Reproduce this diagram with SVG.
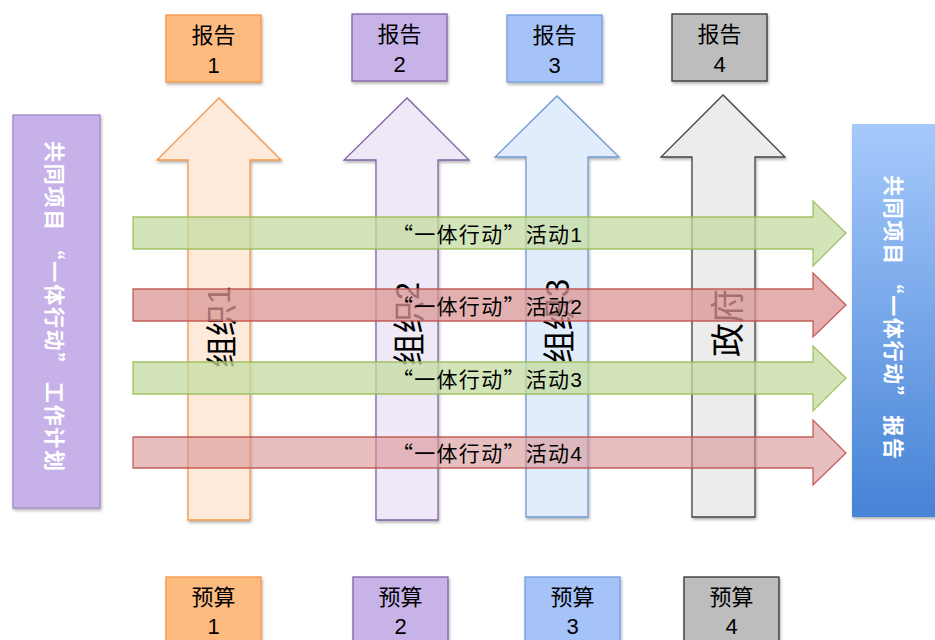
<svg xmlns="http://www.w3.org/2000/svg" width="935" height="640" viewBox="0 0 935 640">
<defs>
<filter id="sh" x="-10%" y="-10%" width="130%" height="130%">
<feDropShadow dx="1" dy="2" stdDeviation="1.5" flood-color="#000" flood-opacity="0.3"/>
</filter>
<linearGradient id="blueGrad" x1="0" y1="0" x2="0" y2="1">
<stop offset="0" stop-color="#a6c9fb"/>
<stop offset="1" stop-color="#4683d6"/>
</linearGradient>
<style>
.box{stroke-width:1.3;filter:url(#sh)}
.lbl{font-family:"Noto Sans CJK SC","Liberation Sans",sans-serif;fill:#000;text-anchor:middle}
.num{font-family:"Liberation Sans","Noto Sans CJK SC",sans-serif}
.side{font-family:"Noto Sans CJK SC",sans-serif;font-weight:bold;fill:#fff;font-size:21px;text-anchor:middle;dominant-baseline:central}
.vt{font-family:"Noto Sans CJK SC","Liberation Sans",sans-serif;fill:#000;text-anchor:middle;dominant-baseline:central}
.up{stroke-width:1.3;filter:url(#sh)}
.green{fill:#c4dca0;stroke:#9bbb59;stroke-width:1.3;fill-opacity:0.75;stroke-opacity:0.9}
.red{fill:#d99594;stroke:#c0504d;stroke-width:1.3;fill-opacity:0.75;stroke-opacity:0.9}
.red2{fill:#d99594;stroke:#c0504d;stroke-width:1.3;fill-opacity:0.6;stroke-opacity:0.9}
.hl{font-family:"Noto Sans CJK SC","Liberation Sans",sans-serif;font-size:21px;fill:#000;text-anchor:middle}
</style>
</defs>
<rect width="935" height="640" fill="#fff"/>

<g id="plan">
<rect class="box" x="13" y="115" width="87" height="393" fill="#c6b1e8" stroke="#a08ac6"/>
<text class="side" transform="translate(56,306) rotate(90)" textLength="330" lengthAdjust="spacing">共同项目 “一体行动” 工作计划</text>
</g>

<g id="report-final">
<rect x="852" y="124" width="90" height="393" fill="url(#blueGrad)" filter="url(#sh)"/>
<text class="side" transform="translate(895,317) rotate(90)" textLength="284" lengthAdjust="spacing">共同项目 “一体行动” 报告</text>
</g>

<g id="report1">
<rect class="box" x="166" y="15" width="95" height="67" fill="#fdbb80" stroke="#f79646"/>
<text class="lbl" x="213.5" y="43" font-size="22">报告</text>
<text class="lbl num" x="213.5" y="73" font-size="22">1</text>
</g>
<g id="report2">
<rect class="box" x="352" y="14" width="95" height="67" fill="#c7b3e7" stroke="#8064a2"/>
<text class="lbl" x="399.5" y="42" font-size="22">报告</text>
<text class="lbl num" x="399.5" y="72" font-size="22">2</text>
</g>
<g id="report3">
<rect class="box" x="507" y="15" width="95" height="67" fill="#a5c3f9" stroke="#6f9fdd"/>
<text class="lbl" x="554.5" y="43" font-size="22">报告</text>
<text class="lbl num" x="554.5" y="73" font-size="22">3</text>
</g>
<g id="report4">
<rect class="box" x="672" y="14" width="95" height="67" fill="#bdbdbd" stroke="#333"/>
<text class="lbl" x="719.5" y="42" font-size="22">报告</text>
<text class="lbl num" x="719.5" y="72" font-size="22">4</text>
</g>

<g id="org1">
<path class="up" d="M188,520 V160 H157 L219,98 L281,160 H250 V520 Z" fill="#fdeada" stroke="#f79646"/>
<text class="vt" font-size="32" transform="translate(219,327) rotate(-90)">组织<tspan class="num">1</tspan></text>
</g>
<g id="org2">
<path class="up" d="M376,520 V160 H344 L407,98 L469,160 H438 V520 Z" fill="#efe9f7" stroke="#8064a2"/>
<text class="vt" font-size="33" transform="translate(407,324) rotate(-90)">组织<tspan class="num">2</tspan></text>
</g>
<g id="org3">
<path class="up" d="M526,517 V157 H495 L557,96 L619,157 H588 V517 Z" fill="#e1ecfc" stroke="#6f98d0"/>
<text class="vt" font-size="33" transform="translate(557,321) rotate(-90)">组织<tspan class="num">3</tspan></text>
</g>
<g id="gov">
<path class="up" d="M692,517 V157 H661 L723,95 L785,157 H755 V517 Z" fill="#ececec" stroke="#444"/>
<text class="vt" font-size="34" transform="translate(725,323) rotate(-90)">政府</text>
</g>

<g id="connectors">
<path class="green" d="M133,217 H813 V201 L846,233 L813,266 V249 H133 Z"/>
<path class="red" d="M133,289 H813 V273 L846,305 L813,337 V321 H133 Z"/>
<path class="green" d="M133,362 H813 V346 L846,378 L813,411 V394 H133 Z"/>
<path class="red2" d="M133,437 H813 V420 L846,453 L813,485 V468 H133 Z"/>
<text class="hl" x="487" y="242" textLength="190" lengthAdjust="spacing">“一体行动”活动<tspan class="num">1</tspan></text>
<text class="hl" x="487" y="314" textLength="190" lengthAdjust="spacing">“一体行动”活动<tspan class="num">2</tspan></text>
<text class="hl" x="487" y="387" textLength="190" lengthAdjust="spacing">“一体行动”活动<tspan class="num">3</tspan></text>
<text class="hl" x="487" y="461" textLength="190" lengthAdjust="spacing">“一体行动”活动<tspan class="num">4</tspan></text>
</g>

<g id="budget1">
<rect class="box" x="166" y="577" width="95" height="70" fill="#fdbb80" stroke="#f79646"/>
<text class="lbl" x="213.5" y="605" font-size="22">预算</text>
<text class="lbl num" x="213.5" y="634" font-size="22">1</text>
</g>
<g id="budget2">
<rect class="box" x="353" y="577" width="95" height="70" fill="#c7b3e7" stroke="#8064a2"/>
<text class="lbl" x="400.5" y="605" font-size="22">预算</text>
<text class="lbl num" x="400.5" y="634" font-size="22">2</text>
</g>
<g id="budget3">
<rect class="box" x="525" y="577" width="95" height="70" fill="#a5c3f9" stroke="#6f9fdd"/>
<text class="lbl" x="572.5" y="605" font-size="22">预算</text>
<text class="lbl num" x="572.5" y="634" font-size="22">3</text>
</g>
<g id="budget4">
<rect class="box" x="684" y="577" width="95" height="70" fill="#bdbdbd" stroke="#333"/>
<text class="lbl" x="731.5" y="605" font-size="22">预算</text>
<text class="lbl num" x="731.5" y="634" font-size="22">4</text>
</g>
</svg>
